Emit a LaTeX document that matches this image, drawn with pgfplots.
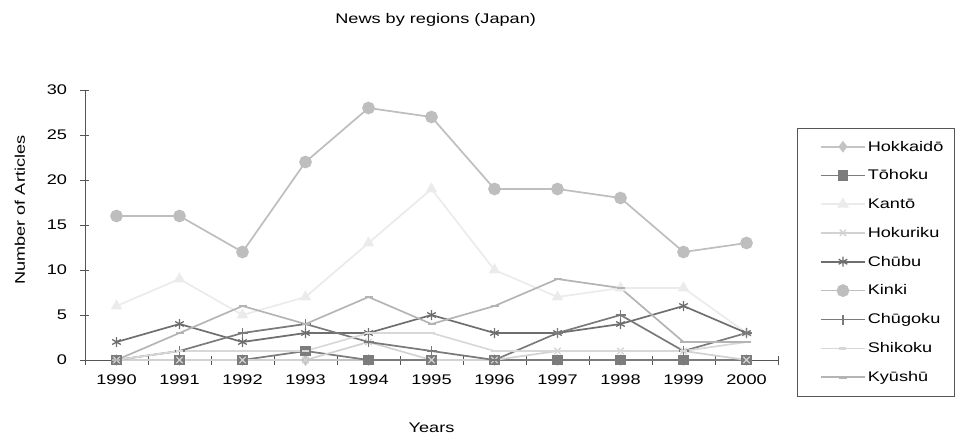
\documentclass[border=0pt]{standalone}
\usepackage{fontspec}
\setmainfont{Liberation Sans}[FakeStretch=1.3]
\usepackage{pgfplots}
\usepackage{pgfplotstable}
\pgfplotsset{compat=1.18}

\definecolor{cHok}{HTML}{C4C4C4}
\definecolor{cToh}{HTML}{7C7C7C}
\definecolor{cKan}{HTML}{EBEBEB}
\definecolor{cHkr}{HTML}{D2D2D2}
\definecolor{cChb}{HTML}{6E6E6E}
\definecolor{cKin}{HTML}{BEBEBE}
\definecolor{cChg}{HTML}{7A7A7A}
\definecolor{cShi}{HTML}{D8D8D8}
\definecolor{cKyu}{HTML}{B4B4B4}
\definecolor{axisgray}{HTML}{555555}

% articles per region, 1990 (0) to 2000 (10)
\pgfplotstableread{
yr Hok Toh Kan Hkr Chb Kin Chg Shi Kyu
0  0   0   6   0   2   16  0   0   0
1  0   0   9   0   4   16  1   1   3
2  0   0   5   0   2   12  3   1   6
3  0   1   7   0   3   22  4   1   4
4  0   0   13  2   3   28  2   3   7
5  0   0   19  0   5   27  1   3   4
6  0   0   10  0   3   19  0   1   6
7  0   0   7   1   3   19  3   1   9
8  0   0   8   1   4   18  5   1   8
9  0   0   8   1   6   12  1   1   2
10 0   0   3   0   3   13  3   2   2
}\newsdata

\begin{document}
\begin{tikzpicture}
\path[use as bounding box] (-85bp,-77bp) rectangle (871bp,360bp);
\begin{axis}[
  at={(0,0)}, anchor=south west,
  scale only axis,
  width=693bp, height=270bp,
  xmin=-0.5, xmax=10.5,
  ymin=0, ymax=30,
  axis lines*=left,
  axis line style={axisgray, line width=0.9pt},
  every tick/.style={axisgray, line width=0.9pt},
  tick align=center,
  xtick={0,...,10},
  xticklabels={1990,1991,1992,1993,1994,1995,1996,1997,1998,1999,2000},
  major x tick style={draw=none},
  minor xtick={-0.5,0.5,...,10.5},
  minor tick length=9bp,
  ytick={0,5,...,30},
  major tick length=9bp,
  tick label style={font=\fontsize{14}{16}\selectfont, black},
  /pgf/number format/assume math mode=true,
  xticklabel style={yshift=-7bp},
  yticklabel style={xshift=-10bp},
  title={News by regions (Japan)},
  title style={at={(axis description cs:0.506,1.238)}, anchor=center, font=\fontsize{14}{16}\selectfont},
  xlabel={Years},
  xlabel style={at={(axis description cs:0.5,-0.252)}, anchor=center, font=\fontsize{14}{16}\selectfont},
  ylabel={Number of Articles},
  ylabel style={at={(axis description cs:-0.094,0.555)}, anchor=center, font=\fontsize{14}{16}\selectfont},
  clip=false,
  legend style={at={(1.027,0.363)}, anchor=west, draw=axisgray, line width=0.8pt,
    font=\fontsize{14}{16}\selectfont, row sep=13.3bp, inner xsep=9bp, inner ysep=11bp},
  legend cell align=left,
  legend image code/.code={%
    \path (0bp,0bp);
    \draw[mark repeat=2, mark phase=2] plot coordinates {(14bp,0bp) (36bp,0bp) (58bp,0bp)};},
  every axis plot/.append style={line width=1.7bp},
]
\addplot[cHok, mark=diamond*, mark size=4.5bp] table[x=yr, y=Hok] {\newsdata};
\addlegendentry{Hokkaidō}
\addplot[cToh, mark=square*, mark size=4.5bp] table[x=yr, y=Toh] {\newsdata};
\addlegendentry{Tōhoku}
\addplot[cKan, mark=triangle*, mark size=5bp] table[x=yr, y=Kan] {\newsdata};
\addlegendentry{Kantō}
\addplot[cHkr, mark=x, mark size=4.5bp, mark options={line width=1.3bp}] table[x=yr, y=Hkr] {\newsdata};
\addlegendentry{Hokuriku}
\addplot[cChb, mark=asterisk, mark size=5bp, mark options={line width=1.3bp}] table[x=yr, y=Chb] {\newsdata};
\addlegendentry{Chūbu}
\addplot[cKin, mark=*, mark size=5.5bp] table[x=yr, y=Kin] {\newsdata};
\addlegendentry{Kinki}
\addplot[cChg, mark=+, mark size=5bp, mark options={line width=1.3bp}] table[x=yr, y=Chg] {\newsdata};
\addlegendentry{Chūgoku}
\addplot[cShi, mark=-, mark size=3.5bp, mark options={line width=2.5bp}] table[x=yr, y=Shi] {\newsdata};
\addlegendentry{Shikoku}
\addplot[cKyu, mark=-, mark size=4bp, mark options={line width=2.5bp}] table[x=yr, y=Kyu] {\newsdata};
\addlegendentry{Kyūshū}
\end{axis}
\end{tikzpicture}
\end{document}
